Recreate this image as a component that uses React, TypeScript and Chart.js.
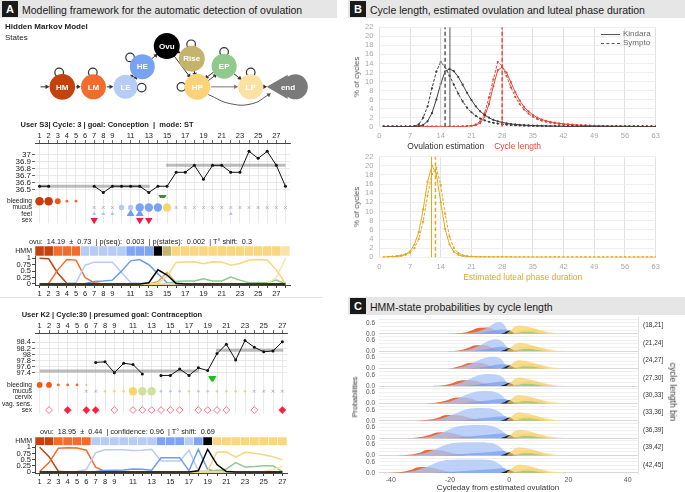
import React, { useEffect, useRef } from 'react';
import { Chart, registerables } from 'chart.js';
Chart.register(...registerables);

const FONT = "'Liberation Sans', Arial, Helvetica, sans-serif";
Chart.defaults.font.family = FONT;
Chart.defaults.color = '#222';

// ---------------- Panel A : HMM diagram ----------------
const NODE_NAMES = ['HM', 'LM', 'LE', 'HE', 'Ovu', 'Rise', 'EP', 'HP', 'LP', 'end'];
const NODE_X = [52.7, 86.7, 121.7, 140, 166.7, 194, 229.3, 200, 258.3, 307];
const NODE_Y = [90.7, 90.7, 90.7, 64, 36.7, 53.3, 63.3, 90.7, 90.7, 90.7];
const NODE_R = [12.8, 12.5, 12, 12.5, 13, 13, 12.5, 13, 12.5, 12.5];
const NODE_COLORS = ['#c4420e', '#f26c2c', '#b6ccf6', '#78a2f2', '#000000', '#c6b36b', '#91c98d', '#f9d27a', '#fbe1a3', '#7a7a7a'];
const END_TIP = [291, 90.7];
const ENTRY = [27, 90.7];
const EDGES = [['in', 'HM'], ['HM', 'LM'], ['LM', 'LE'], ['HE', 'Ovu'], ['Ovu', 'Rise'], ['Ovu', 'HP'], ['Rise', 'HP'], ['EP', 'LP'], ['HP', 'LP'], ['LP', 'end']];
const PAIRS = [['LE', 'HE'], ['HP', 'EP']];
const SELF_LOOP_X = [49.3, 86, 139.3, 126.7, 193.3, 229.3, 182.7, 258.3];
const SELF_LOOP_Y = [71.7, 71.7, 91.7, 51.7, 34.3, 44.3, 90.7, 71.7];
const CURVE_PATH = [[212, 101], [236, 113], [260, 113], [278, 101]];

// ---------------- state colours ----------------
const STATE_COLORS = { HM: '#c4420e', LM: '#f26c2c', LE: '#b6ccf6', HE: '#7ea5f2', Ovu: '#000000', Rise: '#c7b46c', HP: '#f9d67f', EP: '#8fc98b', LP: '#fce3a6' };
const LINE_COLORS = { HM: '#c4420e', LM: '#f26c2c', LE: '#b6ccf6', HE: '#6f9cf0', Ovu: '#000000', Rise: '#c7b46c', HP: '#f9d67f', EP: '#8fc98b', LP: '#fce3a6' };

// ---------------- User S3 ----------------
const S3_TEMP = [36.55, 36.55, null, null, null, null, 36.55, 36.46, 36.55, 36.55, 36.55, 36.55, 36.46, 36.55, 36.55, 36.75, 36.75, 36.85, 36.65, 36.85, 36.85, 36.75, 36.75, 37.05, 36.95, 37.05, 36.85, 36.55];
const S3_COVER_LOW = [1, 13.1, 36.55];
const S3_COVER_HIGH = [14.9, 28, 36.85];
const S3_TEMP_TICKS = [36.5, 36.6, 36.7, 36.8, 36.9, 37];
const S3_ROWS = ['bleeding', 'mucus', 'feel', 'sex'];
const S3_BLEED = [3, 3, 2, 1, 1];
const S3_MUCUS_TYPE = [null, null, null, null, null, null, 'x', 'x', 'x', 'lb', 'lb', 'b', 'b', 'b', 'y', 'x', 'x', 'x', 'x', 'x', 'x', 'x', 'x', 'x', 'x', 'x', 'x', 'x'];
const S3_MUCUS_LEVEL = [0, 0, 0, 0, 0, 0, 0, 0, 0, 2, 2, 3, 3, 3, 3, 0, 0, 0, 0, 0, 0, 0, 0, 0, 0, 0, 0, 0];
const S3_FEEL_DAYS = [7, 8, 9, 11, 12, 22];
const S3_FEEL_LEVEL = [1, 1, 1, 3, 3, 1];
const S3_SEX_DAYS = [7, 12, 13];
const S3_OVU = 14.5;
const S3_STATES = ['HM', 'HM', 'LM', 'LM', 'LM', 'LE', 'LE', 'LE', 'LE', 'LE', 'HE', 'HE', 'HE', 'Ovu', 'Rise', 'HP', 'HP', 'HP', 'HP', 'HP', 'HP', 'HP', 'HP', 'HP', 'HP', 'HP', 'HP', 'LP'];
const S3_P_HM = [1, 0.98, 0.42, 0.03, 0, 0, 0, 0, 0, 0, 0, 0, 0, 0, 0, 0, 0, 0, 0, 0, 0, 0, 0, 0, 0, 0, 0, 0];
const S3_P_LM = [0, 0.02, 0.55, 0.95, 0.93, 0.25, 0.05, 0, 0, 0, 0, 0, 0, 0, 0, 0, 0, 0, 0, 0, 0, 0, 0, 0, 0, 0, 0, 0];
const S3_P_LE = [0, 0, 0.02, 0.02, 0.05, 0.73, 0.85, 0.85, 0.85, 0.45, 0.05, 0.03, 0, 0, 0, 0, 0, 0, 0, 0, 0, 0, 0, 0, 0, 0, 0, 0];
const S3_P_HE = [0, 0, 0, 0, 0, 0.02, 0.1, 0.12, 0.15, 0.5, 0.9, 0.95, 0.75, 0.4, 0.05, 0, 0, 0, 0, 0, 0, 0, 0, 0, 0, 0, 0, 0];
const S3_P_OVU = [0, 0, 0, 0, 0, 0, 0, 0, 0, 0, 0, 0, 0.05, 0.55, 0.35, 0.02, 0, 0, 0, 0, 0, 0, 0, 0, 0, 0, 0, 0];
const S3_P_RISE = [0, 0, 0, 0, 0, 0, 0, 0, 0, 0, 0, 0, 0, 0.1, 0.45, 0.05, 0, 0, 0, 0, 0, 0, 0, 0, 0, 0, 0, 0];
const S3_P_HP = [0, 0, 0, 0, 0, 0, 0, 0, 0, 0, 0, 0, 0, 0.02, 0.3, 0.84, 0.86, 0.87, 0.79, 0.87, 0.86, 0.73, 0.8, 0.93, 0.95, 0.93, 0.55, 0.02];
const S3_P_EP = [0, 0, 0, 0, 0, 0, 0, 0, 0, 0, 0, 0, 0, 0, 0.02, 0.1, 0.12, 0.12, 0.2, 0.12, 0.12, 0.27, 0.15, 0.05, 0.05, 0.05, 0.15, 0];
const S3_P_LP = [0, 0, 0, 0, 0, 0, 0, 0, 0, 0, 0, 0, 0, 0, 0, 0, 0, 0, 0, 0, 0, 0, 0, 0, 0, 0.02, 0.25, 1];

// ---------------- User K2 ----------------
const K2_TEMP = [null, null, null, null, null, null, 97.74, 97.76, 97.4, 97.71, 97.67, 97.36, null, 97.31, 97.31, 97.52, 97.31, 97.56, 97.47, 98.03, 98.34, 97.82, 98.46, 98.24, 98.09, 98.12, 98.42];
const K2_COVER_LOW = [1, 18.1, 97.46];
const K2_COVER_HIGH = [19.9, 27.1, 98.14];
const K2_TEMP_TICKS = [97.4, 97.6, 97.8, 98, 98.2, 98.4];
const K2_ROWS = ['bleeding', 'mucus', 'cervix', 'vag. sens.', 'sex'];
const K2_BLEED = [2, 2, 1, 1, 1, 0];
const K2_MUCUS_TYPE = [null, null, null, null, null, 'x', 'x', 'y', 'y', 'y', 'y', 'g', 'g', 'lb', 'lb', 'lb', 'g', 'lb', 'lb', 'g', 'g', 'y', 'y', 'x', 'x', 'x', 'x'];
const K2_MUCUS_LEVEL = [0, 0, 0, 0, 0, 0, 0, 1, 1, 1, 3, 3, 3, 1, 1, 1, 1, 1, 1, 1, 1, 1, 1, 0, 0, 0, 0];
const K2_SEX_OPEN = [2, 9, 11, 12, 13, 14, 15, 16, 18, 19, 20, 21, 24];
const K2_SEX_FILLED = [4, 6, 7, 27];
const K2_OVU = 19.5;
const K2_STATES = ['HM', 'HM', 'LM', 'LM', 'LM', 'LM', 'LE', 'LE', 'LE', 'LE', 'LE', 'LE', 'LE', 'HE', 'HE', 'HE', 'LE', 'HE', 'Ovu', 'HP', 'HP', 'HP', 'HP', 'HP', 'HP', 'HP', 'HP'];
const K2_P_HM = [1, 0.62, 0.03, 0, 0, 0, 0, 0, 0, 0, 0, 0, 0, 0, 0, 0, 0, 0, 0, 0, 0, 0, 0, 0, 0, 0, 0];
const K2_P_LM = [0.02, 0.38, 0.96, 0.98, 0.97, 0.88, 0.2, 0.02, 0, 0, 0, 0, 0, 0, 0, 0, 0, 0, 0, 0, 0, 0, 0, 0, 0, 0, 0];
const K2_P_LE = [0, 0, 0, 0, 0.02, 0.1, 0.78, 0.9, 0.9, 0.9, 0.87, 0.88, 0.92, 0.45, 0.45, 0.45, 0.88, 0.05, 0.02, 0, 0, 0, 0, 0, 0, 0, 0];
const K2_P_HE = [0, 0, 0, 0, 0, 0, 0.02, 0.06, 0.07, 0.08, 0.12, 0.11, 0.07, 0.58, 0.58, 0.58, 0.05, 0.92, 0.1, 0.02, 0, 0, 0, 0, 0, 0, 0];
const K2_P_OVU = [0, 0, 0, 0, 0, 0, 0, 0, 0, 0, 0, 0, 0, 0, 0, 0, 0, 0.05, 0.92, 0.3, 0.02, 0, 0, 0, 0, 0, 0];
const K2_P_RISE = [0, 0, 0, 0, 0, 0, 0, 0, 0, 0, 0, 0, 0, 0, 0, 0, 0, 0, 0, 0.08, 0.03, 0, 0, 0, 0, 0, 0];
const K2_P_HP = [0, 0, 0, 0, 0, 0, 0, 0, 0, 0, 0, 0, 0, 0, 0, 0, 0, 0, 0.05, 0.8, 0.82, 0.6, 0.8, 0.76, 0.7, 0.62, 0.5];
const K2_P_EP = [0, 0, 0, 0, 0, 0, 0, 0, 0, 0, 0, 0, 0, 0, 0, 0, 0, 0, 0, 0.03, 0.12, 0.38, 0.2, 0.22, 0.25, 0.25, 0.02];
const K2_P_LP = [0, 0, 0, 0, 0, 0, 0, 0, 0, 0, 0, 0, 0, 0, 0, 0, 0, 0, 0, 0, 0, 0, 0, 0, 0.02, 0.1, 0.22];

// ---------------- Panel B ----------------
const B_XTICKS = [0, 7, 14, 21, 28, 35, 42, 49, 56, 63];
const B_YTICKS = [0, 2, 4, 6, 8, 10, 12, 14, 16, 18, 20, 22];
const OV_KINDARA = [0, 0, 0, 0, 0, 0, 0.02, 0.05, 0.1, 0.4, 1.2, 3.0, 6.0, 9.5, 12.2, 12.8, 12.3, 11.0, 9.3, 7.5, 5.9, 4.5, 3.4, 2.6, 2.0, 1.5, 1.2, 0.95, 0.75, 0.6, 0.5, 0.42, 0.35, 0.3, 0.26, 0.22, 0.19, 0.16, 0.14, 0.12, 0.1, 0.09, 0.08, 0.07, 0.06, 0.05, 0.05, 0.04, 0.04, 0.03, 0.03, 0.03, 0.02, 0.02, 0.02, 0.02, 0.01, 0.01, 0.01, 0.01, 0.01, 0.01, 0.01];
const OV_SYMPTO = [0, 0, 0, 0, 0, 0, 0.03, 0.1, 0.5, 2.0, 4.5, 8.5, 12.2, 14.3, 13.2, 11.3, 9.3, 7.3, 5.6, 4.2, 3.2, 2.4, 1.8, 1.4, 1.1, 0.85, 0.7, 0.55, 0.45, 0.37, 0.3, 0.25, 0.21, 0.18, 0.15, 0.13, 0.11, 0.1, 0.09, 0.08, 0.07, 0.06, 0.05, 0.05, 0.04, 0.04, 0.03, 0.03, 0.03, 0.02, 0.02, 0.02, 0.02, 0.01, 0.01, 0.01, 0.01, 0.01, 0.01, 0.01, 0, 0, 0];
const CL_KINDARA = [0, 0, 0, 0, 0, 0, 0, 0, 0, 0, 0, 0, 0, 0, 0, 0, 0, 0.02, 0.05, 0.1, 0.2, 0.35, 0.8, 2.2, 5.0, 9.0, 12.5, 13.2, 12.0, 9.8, 7.6, 5.8, 4.4, 3.4, 2.6, 2.0, 1.6, 1.3, 1.05, 0.88, 0.74, 0.62, 0.52, 0.44, 0.38, 0.33, 0.28, 0.24, 0.21, 0.18, 0.16, 0.14, 0.12, 0.11, 0.1, 0.09, 0.08, 0.07, 0.06, 0.06, 0.05, 0.05, 0.04];
const CL_SYMPTO = [0, 0, 0, 0, 0, 0, 0, 0, 0, 0, 0, 0, 0, 0, 0, 0, 0, 0.03, 0.05, 0.1, 0.2, 0.5, 1.2, 3.0, 6.5, 10.5, 14.3, 13.4, 11.2, 8.7, 6.6, 5.0, 3.8, 2.9, 2.2, 1.7, 1.35, 1.1, 0.9, 0.75, 0.62, 0.52, 0.44, 0.37, 0.32, 0.27, 0.23, 0.2, 0.17, 0.15, 0.13, 0.11, 0.1, 0.09, 0.08, 0.07, 0.06, 0.05, 0.05, 0.04, 0.04, 0.03, 0.03];
const LU_KINDARA = [0, 0.1, 0.15, 0.25, 0.4, 0.7, 1.3, 2.8, 5.5, 10.5, 16.5, 20.0, 18.3, 12.0, 6.2, 2.8, 1.2, 0.55, 0.3, 0.18, 0.1, 0.07, 0.05, 0.04, 0.03, 0.03, 0.02, 0.02, 0.02, 0.02, 0.01, 0.01, 0.01, 0.01, 0.01, 0.01, 0.01, 0.01, 0.01, 0.01, 0, 0, 0, 0, 0, 0, 0, 0, 0, 0, 0, 0, 0, 0, 0, 0, 0, 0, 0, 0, 0, 0, 0];
const LU_SYMPTO = [0, 0.05, 0.1, 0.2, 0.3, 0.55, 1.0, 2.0, 4.0, 7.8, 13.5, 18.2, 19.6, 15.8, 9.5, 4.5, 2.0, 0.9, 0.45, 0.25, 0.15, 0.1, 0.07, 0.05, 0.04, 0.03, 0.03, 0.02, 0.02, 0.02, 0.01, 0.01, 0.01, 0.01, 0.01, 0.01, 0.01, 0.01, 0.01, 0.01, 0, 0, 0, 0, 0, 0, 0, 0, 0, 0, 0, 0, 0, 0, 0, 0, 0, 0, 0, 0, 0, 0, 0];
const OV_MEANS = [16.1, 15.0, 14.0];
const CL_MEANS = [28.0, 28.0];
const LU_MEANS = [11.9, 12.8];

// ---------------- Panel C ----------------
const C_BINS = ['(18,21]', '(21,24]', '(24,27]', '(27,30]', '(30,33]', '(33,36]', '(36,39]', '(39,42]', '(42,45]'];
const C_XTICKS = [-40, -20, 0, 20, 40];
const C_YGRID = [0, 0.2, 0.4, 0.6, 0.8];
const C_M = [
  [[-20, 0], [-16, 0.04], [-13, 0.17], [-11, 0.31], [-9, 0.33], [-7, 0.34], [-5, 0.2], [-3, 0.07], [-1, 0]],
  [[-21, 0], [-17, 0.04], [-14, 0.17], [-12, 0.31], [-10, 0.33], [-8, 0.33], [-6, 0.2], [-4, 0.07], [-2, 0]],
  [[-23, 0], [-19, 0.04], [-16, 0.17], [-13.5, 0.31], [-11, 0.32], [-9, 0.3], [-7, 0.18], [-5, 0.06], [-3, 0]],
  [[-26, 0], [-22, 0.04], [-19, 0.17], [-16, 0.31], [-13.5, 0.32], [-11, 0.28], [-9, 0.16], [-6, 0.05], [-4, 0]],
  [[-29, 0], [-25, 0.04], [-21, 0.17], [-18.5, 0.31], [-16, 0.32], [-13, 0.27], [-11, 0.15], [-8, 0.05], [-6, 0]],
  [[-32, 0], [-28, 0.04], [-24, 0.17], [-21.5, 0.31], [-19, 0.32], [-16, 0.27], [-13, 0.14], [-10, 0.04], [-8, 0]],
  [[-35, 0], [-31, 0.04], [-27, 0.17], [-24.5, 0.31], [-22, 0.32], [-19, 0.27], [-16, 0.14], [-13, 0.04], [-11, 0]],
  [[-38, 0], [-34, 0.04], [-30, 0.17], [-28, 0.31], [-25.5, 0.32], [-22.5, 0.27], [-19.5, 0.14], [-16, 0.04], [-14, 0]],
  [[-41, 0], [-37, 0.04], [-33, 0.17], [-31, 0.31], [-28.5, 0.32], [-25.5, 0.27], [-22.5, 0.14], [-19, 0.04], [-17, 0]],
];
const C_LE = [
  [[-17, 0], [-13, 0.05], [-10, 0.15], [-7, 0.38], [-5, 0.58], [-3.5, 0.65], [-2, 0.55], [-0.5, 0.2], [1, 0]],
  [[-19, 0], [-15, 0.05], [-12, 0.18], [-9, 0.4], [-6.5, 0.6], [-4.5, 0.65], [-2.5, 0.55], [-0.5, 0.2], [1, 0]],
  [[-21, 0], [-17, 0.06], [-13, 0.25], [-10, 0.48], [-7, 0.63], [-5, 0.65], [-3, 0.55], [-1, 0.2], [1, 0]],
  [[-23, 0], [-19, 0.06], [-15, 0.28], [-11, 0.55], [-8, 0.66], [-5, 0.64], [-2.5, 0.5], [-0.5, 0.15], [1, 0]],
  [[-26, 0], [-21, 0.07], [-17, 0.3], [-13, 0.57], [-9, 0.68], [-6, 0.66], [-3, 0.5], [-1, 0.2], [1, 0]],
  [[-29, 0], [-24, 0.08], [-19, 0.35], [-15, 0.6], [-11, 0.7], [-7, 0.69], [-4, 0.55], [-1, 0.2], [1, 0]],
  [[-32, 0], [-27, 0.08], [-22, 0.35], [-18, 0.62], [-14, 0.71], [-9, 0.72], [-5, 0.62], [-2, 0.35], [0, 0.08], [1, 0]],
  [[-35, 0], [-30, 0.08], [-25, 0.35], [-21, 0.62], [-17, 0.72], [-11, 0.73], [-6, 0.68], [-3, 0.45], [-1, 0.15], [1, 0]],
  [[-38, 0], [-33, 0.08], [-28, 0.33], [-24, 0.6], [-20, 0.72], [-12, 0.74], [-6, 0.7], [-3, 0.45], [-1, 0.15], [1, 0]],
];
const C_HE = [
  [[-12, 0], [-9, 0.06], [-6, 0.16], [-3, 0.24], [-1, 0.22], [0.5, 0.08], [1.5, 0]],
  [[-13, 0], [-10, 0.06], [-6, 0.16], [-3, 0.24], [-1, 0.22], [0.5, 0.08], [1.5, 0]],
  [[-14, 0], [-10, 0.06], [-6, 0.16], [-3, 0.24], [-1, 0.23], [0.5, 0.08], [1.5, 0]],
  [[-16, 0], [-12, 0.06], [-8, 0.14], [-4, 0.22], [-1.5, 0.24], [0.5, 0.08], [1.5, 0]],
  [[-17, 0], [-13, 0.06], [-8, 0.14], [-4, 0.22], [-1.5, 0.24], [0.5, 0.08], [1.5, 0]],
  [[-19, 0], [-14, 0.06], [-9, 0.14], [-4, 0.22], [-1.5, 0.25], [0.5, 0.08], [1.5, 0]],
  [[-22, 0], [-17, 0.05], [-12, 0.12], [-6, 0.2], [-2, 0.25], [0.5, 0.08], [1.5, 0]],
  [[-24, 0], [-19, 0.05], [-13, 0.12], [-6, 0.2], [-2, 0.25], [0.5, 0.08], [1.5, 0]],
  [[-26, 0], [-21, 0.05], [-14, 0.12], [-6, 0.2], [-2, 0.26], [0.5, 0.08], [1.5, 0]],
];
const C_OVU = [[-3, 0], [-1.5, 0.08], [0, 0.18], [1.5, 0.06], [3, 0]];
const C_HP = [[-1, 0], [0.5, 0.2], [2, 0.4], [3.5, 0.46], [5, 0.43], [7, 0.36], [9, 0.27], [11, 0.17], [13, 0.08], [15, 0.03], [17, 0]];
const C_LP = [[1, 0], [3, 0.12], [5, 0.22], [7, 0.27], [9, 0.25], [11, 0.2], [13, 0.12], [15, 0.06], [18, 0.02], [20, 0]];
const C_EP = [[1, 0], [3, 0.06], [5, 0.12], [7, 0.12], [9, 0.08], [11, 0.03], [13, 0]];

// ============================================================
const BASE = { responsive: false, animation: false, events: [], maintainAspectRatio: false };
const NOPLUG = { legend: { display: false }, tooltip: { enabled: false } };
const fit = (w?: number, h?: number) => (sc) => {
  if (w != null) sc.width = w;
  if (h != null) sc.height = h;
  sc.paddingTop = 0; sc.paddingBottom = 0; sc.paddingLeft = 0; sc.paddingRight = 0;
};

function ChartBox({ x, y, w, h, make }) {
  const ref = useRef(null);
  useEffect(() => {
    const c = new Chart(ref.current, make());
    return () => c.destroy();
  }, []);
  return <canvas ref={ref} width={w} height={h} style={{ position: 'absolute', left: x, top: y, width: w, height: h }} />;
}

// ---------- diagram ----------
function diagramConfig() {
  const idx = (n) => NODE_NAMES.indexOf(n);
  const P = (n) => (n === 'in' ? ENTRY : [NODE_X[idx(n)], NODE_Y[idx(n)]]);
  const R = (n) => (n === 'in' ? 0 : NODE_R[idx(n)]);
  const AH = 2.6;
  const arrow = (a, b, ra, rb, off, color) => {
    const dx = b[0] - a[0], dy = b[1] - a[1];
    const L = Math.hypot(dx, dy), ux = dx / L, uy = dy / L;
    const px = -uy * off, py = ux * off;
    return {
      type: 'line', showLine: true,
      data: [{ x: a[0] + ux * ra + px, y: a[1] + uy * ra + py }, { x: b[0] - ux * rb + px, y: b[1] - uy * rb + py }],
      borderColor: color, borderWidth: 1, pointRadius: [0, AH], pointStyle: 'triangle',
      pointRotation: [0, (Math.atan2(dx, -dy) * 180) / Math.PI], pointBackgroundColor: color, pointBorderWidth: 0,
    };
  };
  const ds: any[] = [];
  ds.push({ type: 'scatter', data: NODE_NAMES.map((n, i) => ({ x: NODE_X[i], y: NODE_Y[i] })), pointRadius: NODE_R, pointBackgroundColor: NODE_COLORS, pointBorderWidth: 0 });
  ds.push({ type: 'scatter', data: [{ x: END_TIP[0], y: END_TIP[1] }], pointStyle: 'triangle', pointRotation: 270, pointRadius: 14, pointBackgroundColor: '#7a7a7a', pointBorderWidth: 0 });
  ds.push({ type: 'scatter', data: SELF_LOOP_X.map((x, i) => ({ x, y: SELF_LOOP_Y[i] })), pointRadius: 4.3, pointBackgroundColor: 'rgba(0,0,0,0)', pointBorderColor: '#333', pointBorderWidth: 1.2 });
  EDGES.forEach(([a, b]) => {
    const pb = b === 'end' ? [END_TIP[0] - 14, END_TIP[1]] : P(b);
    const rb = b === 'end' ? 1 + AH : R(b) + 1.5 + AH;
    ds.push(arrow(P(a), pb, R(a) + 2, rb, 0, b === 'LP' && a === 'HP' ? '#777' : '#333'));
  });
  PAIRS.forEach(([a, b]) => {
    ds.push(arrow(P(a), P(b), R(a) + 0.5, R(b) + 0.5 + AH, 2.2, '#333'));
    ds.push(arrow(P(b), P(a), R(b) + 0.5, R(a) + 0.5 + AH, 2.2, '#333'));
  });
  const cp = CURVE_PATH.map(([x, y]) => ({ x, y }));
  const l = cp.length;
  ds.push({ type: 'line', showLine: true, data: cp, tension: 0.45, borderColor: '#555', borderWidth: 1, pointStyle: 'triangle', pointRadius: cp.map((_, i) => (i === l - 1 ? AH : 0)), pointRotation: (Math.atan2(cp[l - 1].x - cp[l - 2].x, -(cp[l - 1].y - cp[l - 2].y)) * 180) / Math.PI, pointBackgroundColor: '#555', pointBorderWidth: 0 });
  const labels = {
    id: 'nodeLabels',
    afterDatasetsDraw(chart) {
      const { ctx, scales } = chart;
      ctx.save();
      ctx.font = `bold 8px ${FONT}`;
      ctx.fillStyle = '#ffffff';
      ctx.textAlign = 'center';
      ctx.textBaseline = 'middle';
      NODE_NAMES.forEach((n, i) => {
        const x = n === 'end' ? (NODE_X[i] + END_TIP[0]) / 2 : NODE_X[i];
        ctx.fillText(n, scales.x.getPixelForValue(x), scales.y.getPixelForValue(NODE_Y[i]) + 0.5);
      });
      ctx.restore();
    },
  };
  return {
    type: 'scatter', data: { datasets: ds },
    options: { ...BASE, layout: { padding: 0 }, plugins: NOPLUG, scales: { x: { type: 'linear', display: false, min: 0, max: 335 }, y: { type: 'linear', display: false, min: 18, max: 132, reverse: true } } },
    plugins: [labels],
  };
}

// ---------- cycle charts ----------
const dayLabel = (v) => ((v <= 9 || v % 2 === 1) && v <= 27 ? String(v) : '');
const BLEED_R = [0.9, 1.4, 2.9, 4.3];
const BLEED_C = ['#f7a27c', '#f2692a', '#ef5616', '#c63c0b'];
const MUCUS_R = [0, 1.3, 2.7, 4.2];
const MUCUS_C = { lb: '#b2caf7', b: '#7aa3f2', y: '#fbd46e', g: '#cfe0a0' };

function cycleTopConfig(s) {
  const n = s.temp.length;
  const days = s.temp.map((_, i) => i + 1);
  const ds: any[] = [];
  const pt = (d, row) => ({ x: d, y: row });
  ds.push({ data: s.bleed.map((_, i) => pt(i + 1, 'bleeding')), yAxisID: 'yR', showLine: false, pointRadius: s.bleed.map((l) => BLEED_R[l]), pointBackgroundColor: s.bleed.map((l) => (s.bleedColors ? s.bleedColors[l] : BLEED_C[l])), pointBorderWidth: 0 });
  const md = s.mucusType.map((t, i) => ({ t, l: s.mucusLevel[i], d: i + 1 })).filter((o) => o.t && o.t !== 'x');
  const mx = s.mucusType.map((t, i) => ({ t, d: i + 1 })).filter((o) => o.t === 'x');
  ds.push({ data: md.map((o) => pt(o.d, 'mucus')), yAxisID: 'yR', showLine: false, pointRadius: md.map((o) => MUCUS_R[o.l]), pointBackgroundColor: md.map((o) => MUCUS_C[o.t]), pointBorderWidth: 0 });
  ds.push({ data: mx.map((o) => pt(o.d, 'mucus')), yAxisID: 'yR', showLine: false, pointStyle: 'crossRot', pointRadius: 2, pointBorderColor: '#a8a8a8', pointBorderWidth: 0.8 });
  if (s.feelDays) ds.push({ data: s.feelDays.map((d) => pt(d, 'feel')), yAxisID: 'yR', showLine: false, pointStyle: 'triangle', pointRadius: s.feelLevel.map((l) => (l > 1 ? 4.6 : 2.2)), pointBackgroundColor: s.feelLevel.map((l) => (l > 1 ? '#6f9cf0' : '#a9c5f8')), pointBorderWidth: 0 });
  if (s.sexTri) ds.push({ data: s.sexTri.map((d) => pt(d, 'sex')), yAxisID: 'yR', showLine: false, pointStyle: 'triangle', pointRotation: 180, pointRadius: 4.3, pointBackgroundColor: '#ee1c40', pointBorderWidth: 0 });
  if (s.sexOpen) ds.push({ data: s.sexOpen.map((d) => pt(d, 'sex')), yAxisID: 'yR', showLine: false, pointStyle: 'rectRot', pointRadius: 3.4, pointBackgroundColor: '#ffffff', pointBorderColor: '#ff4d6d', pointBorderWidth: 0.8 });
  if (s.sexFilled) ds.push({ data: s.sexFilled.map((d) => pt(d, 'sex')), yAxisID: 'yR', showLine: false, pointStyle: 'rectRot', pointRadius: 3.6, pointBackgroundColor: '#ff1f3d', pointBorderColor: '#ff1f3d', pointBorderWidth: 0.5 });
  ds.push({ data: [{ x: s.ovu, y: s.ovuY }], yAxisID: 'yT', showLine: false, pointStyle: 'triangle', pointRotation: 180, pointRadius: 4.8, pointBackgroundColor: s.ovuColor, pointBorderWidth: 0 });
  ds.push({ data: s.temp.map((v, i) => ({ x: i + 1, y: v })), yAxisID: 'yT', borderColor: '#111', borderWidth: 1, pointRadius: 1.5, pointBackgroundColor: '#111', pointBorderWidth: 0, spanGaps: false });
  [s.coverLow, s.coverHigh].forEach((c) => ds.push({ data: [{ x: c[0], y: c[2] }, { x: c[1], y: c[2] }], yAxisID: 'yT', borderColor: 'rgba(150,150,150,0.65)', borderWidth: 3, pointRadius: 0 }));
  return {
    type: 'line', data: { datasets: ds },
    options: {
      ...BASE, plugins: NOPLUG, layout: { padding: { left: 0, right: s.padR, top: 0, bottom: s.padB } },
      scales: {
        x: {
          type: 'linear', position: 'top', min: 0.5, max: n + 0.5,
          afterBuildTicks: (sc) => { sc.ticks = days.map((v) => ({ value: v })); },
          afterFit: fit(undefined, 15),
          ticks: { callback: dayLabel, autoSkip: false, maxRotation: 0, font: { size: 7.5 }, padding: 0, color: '#222' },
          grid: { color: '#e3e3e3', tickColor: '#444', tickLength: 3, lineWidth: 0.8 },
          border: { color: '#444' },
        },
        yT: {
          type: 'linear', position: 'left', stack: 'c', stackWeight: s.wT, weight: 2, min: s.tMin, max: s.tMax,
          afterBuildTicks: (sc) => { sc.ticks = s.tTicks.map((v) => ({ value: v })); },
          afterFit: fit(35),
          ticks: { callback: (v) => String(Math.round(v * 100) / 100), font: { size: s.tFont }, padding: 1, autoSkip: false, color: '#222' },
          grid: { color: '#e3e3e3', tickColor: '#444', tickLength: 3, lineWidth: 0.8 },
          border: { display: false },
        },
        yR: {
          type: 'category', position: 'left', stack: 'c', stackWeight: s.wR, weight: 1, labels: s.rows, offset: true,
          afterFit: fit(35),
          ticks: { font: { size: 6.6 }, padding: 3, autoSkip: false, color: '#222' },
          grid: { display: false, drawTicks: false }, border: { display: false },
        },
      },
    },
  };
}

function cycleBottomConfig(s) {
  const n = s.states.length;
  const days = s.states.map((_, i) => i + 1);
  const ds: any[] = [];
  const lines = [['HM', s.p.HM], ['LM', s.p.LM], ['LE', s.p.LE], ['HE', s.p.HE], ['Rise', s.p.Rise], ['EP', s.p.EP], ['LP', s.p.LP], ['HP', s.p.HP], ['Ovu', s.p.Ovu]];
  lines.reverse().forEach(([k, arr]) => ds.push({ type: 'line', data: arr.map((v, i) => ({ x: i + 1, y: v })), yAxisID: 'yP', borderColor: LINE_COLORS[k], borderWidth: 1.5, pointRadius: 0 }));
  ds.push({ type: 'bar', data: s.states.map((_, i) => ({ x: i + 1, y: 1 })), yAxisID: 'yH', backgroundColor: s.states.map((st) => STATE_COLORS[st]), borderColor: 'rgba(255,255,255,0.45)', borderWidth: 0.6, barPercentage: 1, categoryPercentage: 1, borderSkipped: false });
  return {
    type: 'line', data: { datasets: ds },
    options: {
      ...BASE, plugins: NOPLUG, layout: { padding: { left: 0, right: s.padR, top: 2, bottom: 0 } },
      scales: {
        x: {
          type: 'linear', position: 'bottom', min: 0.5, max: n + 0.5, offset: false,
          afterBuildTicks: (sc) => { sc.ticks = days.map((v) => ({ value: v })); },
          afterFit: fit(undefined, s.xH),
          ticks: { callback: dayLabel, autoSkip: false, maxRotation: 0, font: { size: 7.5 }, padding: 1, color: '#222' },
          grid: { drawOnChartArea: false, tickColor: '#444', tickLength: 3, offset: false },
          border: { color: '#444' },
        },
        yH: {
          type: 'linear', position: 'left', stack: 'h', stackWeight: s.wH, weight: 2, min: 0, max: 1,
          afterBuildTicks: (sc) => { sc.ticks = [{ value: 0.5 }]; },
          afterFit: fit(35),
          ticks: { callback: () => 'HMM', font: { size: 7 }, padding: 3, color: '#222' },
          grid: { display: false, drawTicks: false }, border: { display: false },
        },
        yP: {
          type: 'linear', position: 'left', stack: 'h', stackWeight: s.wP, weight: 1, min: s.pMin, max: s.pMax,
          afterBuildTicks: (sc) => { sc.ticks = [0, 0.25, 0.5, 0.75, 1].map((v) => ({ value: v })); },
          afterFit: fit(35),
          ticks: { callback: (v) => String(v), font: { size: 7.5 }, padding: 1, autoSkip: false, color: '#222' },
          grid: { drawOnChartArea: false, tickColor: '#444', tickLength: 3 },
          border: { color: '#444' },
        },
      },
    },
  };
}

// ---------- panel B ----------
function distConfig(series, means, yH) {
  const ds: any[] = [];
  means.forEach((m) => ds.push({ data: [{ x: m.x, y: 0 }, { x: m.x, y: 22 }], borderColor: m.color, borderWidth: m.w, borderDash: m.dash || [], pointRadius: 0 }));
  series.forEach((s) => ds.push({ data: s.data.map((v, i) => ({ x: i + 1, y: v })), borderColor: s.color, borderWidth: 1, borderDash: s.dash || [], pointRadius: 1.1, pointBackgroundColor: s.color, pointBorderWidth: 0 }));
  return {
    type: 'line', data: { datasets: ds },
    options: {
      ...BASE, plugins: NOPLUG, layout: { padding: { left: 0, right: 29.3, top: yH.top, bottom: 0 } },
      scales: {
        x: {
          type: 'linear', min: 0, max: 63,
          afterBuildTicks: (sc) => { sc.ticks = B_XTICKS.map((v) => ({ value: v })); },
          afterFit: fit(undefined, yH.xh),
          ticks: { font: { size: 7.5 }, color: '#a8a8a8', padding: 5, autoSkip: false, maxRotation: 0 },
          grid: { color: '#dedede', drawTicks: false, lineWidth: 0.9 }, border: { display: false },
        },
        y: {
          type: 'linear', min: 0, max: 22,
          afterBuildTicks: (sc) => { sc.ticks = B_YTICKS.map((v) => ({ value: v })); },
          afterFit: fit(39.3),
          ticks: { font: { size: 7.5 }, color: '#a8a8a8', padding: 6, autoSkip: false },
          grid: { color: '#ededed', drawTicks: false, lineWidth: 0.9 }, border: { display: false },
        },
      },
    },
  };
}

// ---------- panel C ----------
function ridgeConfig() {
  const layers = [
    { get: (i) => C_M[i], color: 'rgba(230,96,40,0.92)' },
    { get: (i) => C_LE[i], color: 'rgba(172,198,247,0.8)' },
    { get: (i) => C_HE[i], color: 'rgba(110,152,240,0.62)' },
    { get: () => C_OVU, color: 'rgba(25,25,25,0.92)' },
    { get: () => C_LP, color: 'rgba(250,226,160,0.75)' },
    { get: () => C_HP, color: 'rgba(248,208,104,0.72)' },
    { get: () => C_EP, color: 'rgba(140,196,130,0.75)' },
  ];
  const ds: any[] = [];
  const scales: any = {
    x: {
      type: 'linear', min: -44, max: 43.5,
      afterBuildTicks: (sc) => { sc.ticks = C_XTICKS.map((v) => ({ value: v })); },
      afterFit: fit(undefined, 12.5),
      ticks: { font: { size: 7 }, color: '#555', padding: 2, autoSkip: false, maxRotation: 0 },
      grid: { display: false, drawTicks: false }, border: { display: false },
    },
  };
  C_BINS.forEach((bin, i) => {
    layers.forEach((L, k) => ds.push({ data: L.get(i).map(([x, y]) => ({ x, y })), yAxisID: 'p' + i, fill: 'origin', backgroundColor: L.color, borderWidth: 0, pointRadius: 0, cubicInterpolationMode: 'monotone', order: 20 - k }));
    scales['p' + i] = {
      type: 'linear', position: 'left', stack: 'L', stackWeight: 1, weight: 20 - i, min: -0.03, max: 0.92,
      afterBuildTicks: (sc) => { sc.ticks = C_YGRID.map((v) => ({ value: v })); },
      afterFit: fit(39),
      ticks: { callback: (v) => (Math.abs(v) < 1e-6 ? '0.0' : Math.abs(v - 0.6) < 1e-6 ? '0.6' : ''), font: { size: 6.5 }, color: '#555', padding: 4, autoSkip: false },
      grid: { color: (c) => (c.tick && Math.abs(c.tick.value) < 1e-6 ? '#cfcfcf' : '#ececec'), drawTicks: false, lineWidth: 0.8 },
      border: { display: false },
    };
    scales['r' + i] = {
      type: 'linear', position: 'right', stack: 'R', stackWeight: 1, weight: i + 1, min: -0.03, max: 0.92,
      afterBuildTicks: (sc) => { sc.ticks = [{ value: 0.45 }]; },
      afterFit: fit(47),
      ticks: { callback: () => bin, font: { size: 6.5 }, color: '#333', padding: 5 },
      grid: { display: false, drawTicks: false }, border: { display: true, color: '#dadada', width: 0.8 },
    };
  });
  return { type: 'line', data: { datasets: ds }, options: { ...BASE, plugins: NOPLUG, layout: { padding: { left: 0, right: 0, top: 3, bottom: 0 } }, scales } };
}

// ---------- text helpers ----------
function T({ x, y, size = 8, bold = false, color = '#222', center = false, rot = 0, children }) {
  const tf = [center || rot ? 'translateX(-50%)' : '', 'translateY(-50%)', rot ? `rotate(${rot}deg)` : ''].join(' ');
  return (
    <div style={{ position: 'absolute', left: x, top: y, fontSize: size, fontWeight: bold ? 700 : 400, color, whiteSpace: 'pre', lineHeight: 1, transform: tf, fontFamily: FONT }}>
      {children}
    </div>
  );
}

function Header({ x, y, w, letter, title }) {
  return (
    <>
      <div style={{ position: 'absolute', left: x, top: y, width: w, height: 18, background: '#e6e6e6' }} />
      <div style={{ position: 'absolute', left: x + 2, top: y + 1, width: 16, height: 16, background: '#1a1a1a', color: '#fff', fontFamily: FONT, fontWeight: 700, fontSize: 11, lineHeight: '16px', textAlign: 'center' }}>{letter}</div>
      <T x={x + 22} y={y + 9.5} size={10.5} color="#1a1a1a">{title}</T>
    </>
  );
}

export default function App() {
  const s3top = () => cycleTopConfig({ temp: S3_TEMP, coverLow: S3_COVER_LOW, coverHigh: S3_COVER_HIGH, tMin: 36.38, tMax: 37.17, tTicks: S3_TEMP_TICKS, tFont: 8, rows: S3_ROWS, bleed: S3_BLEED, mucusType: S3_MUCUS_TYPE, mucusLevel: S3_MUCUS_LEVEL, feelDays: S3_FEEL_DAYS, feelLevel: S3_FEEL_LEVEL, sexTri: S3_SEX_DAYS, ovu: S3_OVU, ovuY: 36.39, ovuColor: '#4d8c1c', wT: 57, wR: 26, padR: 5, padB: 2 });
  const k2top = () => cycleTopConfig({ temp: K2_TEMP, coverLow: K2_COVER_LOW, coverHigh: K2_COVER_HIGH, tMin: 97.1, tMax: 98.71, tTicks: K2_TEMP_TICKS, tFont: 7.5, rows: K2_ROWS, bleed: K2_BLEED, bleedColors: ['#f9a27c', '#f2692a', '#f25a14', '#f25a14'], mucusType: K2_MUCUS_TYPE, mucusLevel: K2_MUCUS_LEVEL, sexOpen: K2_SEX_OPEN, sexFilled: K2_SEX_FILLED, ovu: K2_OVU, ovuY: 97.21, ovuColor: '#19c419', wT: 50.5, wR: 32.5, padR: 8, padB: 2 });
  const s3bot = () => cycleBottomConfig({ states: S3_STATES, p: { HM: S3_P_HM, LM: S3_P_LM, LE: S3_P_LE, HE: S3_P_HE, Ovu: S3_P_OVU, Rise: S3_P_RISE, HP: S3_P_HP, EP: S3_P_EP, LP: S3_P_LP }, wH: 10, wP: 29, pMin: -0.04, pMax: 1.09, padR: 5, xH: 11 });
  const k2bot = () => cycleBottomConfig({ states: K2_STATES, p: { HM: K2_P_HM, LM: K2_P_LM, LE: K2_P_LE, HE: K2_P_HE, Ovu: K2_P_OVU, Rise: K2_P_RISE, HP: K2_P_HP, EP: K2_P_EP, LP: K2_P_LP }, wH: 8.5, wP: 27.5, pMin: -0.04, pMax: 1.073, padR: 8, xH: 15 });
  const ovColor = '#3c3c3c', clColor = '#e0473b', luColor = '#e3a820';
  const bTop = () => distConfig(
    [{ data: OV_KINDARA, color: ovColor }, { data: OV_SYMPTO, color: ovColor, dash: [3, 1.5] }, { data: CL_KINDARA, color: clColor }, { data: CL_SYMPTO, color: clColor, dash: [3, 1.5] }],
    [{ x: OV_MEANS[0], color: '#555', w: 1 }, { x: OV_MEANS[1], color: '#666', w: 1.6, dash: [4, 2.5] }, { x: OV_MEANS[2], color: '#c8c8c8', w: 0.8 }, { x: CL_MEANS[0], color: 'rgba(224,71,59,0.5)', w: 0.8 }, { x: CL_MEANS[1], color: clColor, w: 1.4, dash: [4, 2.5] }],
    { top: 5.3, xh: 17.3 });
  const bBot = () => distConfig(
    [{ data: LU_KINDARA, color: luColor }, { data: LU_SYMPTO, color: luColor, dash: [3, 1.5] }],
    [{ x: LU_MEANS[0], color: luColor, w: 1 }, { x: LU_MEANS[1], color: luColor, w: 1.5, dash: [4, 2.5] }],
    { top: 4.7, xh: 16.7 });

  return (
    <div style={{ position: 'absolute', left: 0, top: 0, width: 685, height: 492, background: '#fff', overflow: 'hidden', fontFamily: FONT }}>
      <Header x={0} y={0} w={337} letter="A" title="Modelling framework for the automatic detection of ovulation" />
      <Header x={348} y={0} w={337} letter="B" title="Cycle length, estimated ovulation and luteal phase duration" />
      <Header x={348} y={297} w={337} letter="C" title="HMM-state probabilities by cycle length" />

      <ChartBox x={0} y={18} w={335} h={114} make={diagramConfig} />
      <T x={5} y={27} size={8} bold>Hidden Markov Model</T>
      <T x={5} y={38} size={8}>States</T>
      <T x={20.5} y={125} size={7.5} bold>{'User S3| Cycle: 3 | goal: Conception  |  mode: ST'}</T>

      <ChartBox x={0} y={128} w={295} h={100} make={s3top} />
      <T x={29} y={241.7} size={7.3}>{'ovu:  14.19  \u00b1  0.73  | p(seq):  0.003  | p(states):  0.002  | T\u00b0 shift:  0.3'}</T>
      <ChartBox x={0} y={244} w={295} h={52} make={s3bot} />
      <div style={{ position: 'absolute', left: 0, top: 297, width: 322, height: 1, background: '#e2e2e2' }} />

      <T x={21.7} y={314.7} size={7.5} bold>{'User K2 | Cycle:30 | presumed goal: Contraception'}</T>
      <ChartBox x={0} y={318} w={295} h={100} make={k2top} />
      <T x={40} y={432} size={7.3}>{'ovu:  18.95  \u00b1  0.44  | confidence: 0.96  | T\u00b0 shift:  0.69'}</T>
      <ChartBox x={0} y={435} w={295} h={53} make={k2bot} />

      <ChartBox x={340} y={22} w={345} h={122} make={bTop} />
      <T x={357} y={77} size={8} color="#555" rot={-90}>% of cycles</T>
      <div style={{ position: 'absolute', left: 601, top: 33.5, width: 19, height: 0, borderTop: '1.3px solid #555' }} />
      <T x={623} y={34} size={8} color="#666">Kindara</T>
      <div style={{ position: 'absolute', left: 601, top: 42.5, width: 19, height: 0, borderTop: '1.3px dashed #555' }} />
      <T x={623} y={43} size={8} color="#666">Sympto</T>
      <T x={445.8} y={146} size={8.5} color="#333" center>Ovulation estimation</T>
      <T x={517.6} y={146} size={8.5} color="#e0473b" center>Cycle length</T>

      <ChartBox x={340} y={152} w={345} h={122} make={bBot} />
      <T x={357} y={207} size={8} color="#555" rot={-90}>% of cycles</T>
      <T x={522.7} y={277} size={8.5} color="#e3a820" center>Estimated luteal phase duration</T>

      <ChartBox x={340} y={314} w={345} h={172} make={ridgeConfig} />
      <T x={355} y={397} size={7.5} color="#333" rot={-90}>Probabilities</T>
      <T x={673} y={392} size={8.5} color="#333" rot={90}>cycle length bin</T>
      <T x={498} y={488} size={8} color="#333" center>Cycleday from estimated ovulation</T>
    </div>
  );
}
